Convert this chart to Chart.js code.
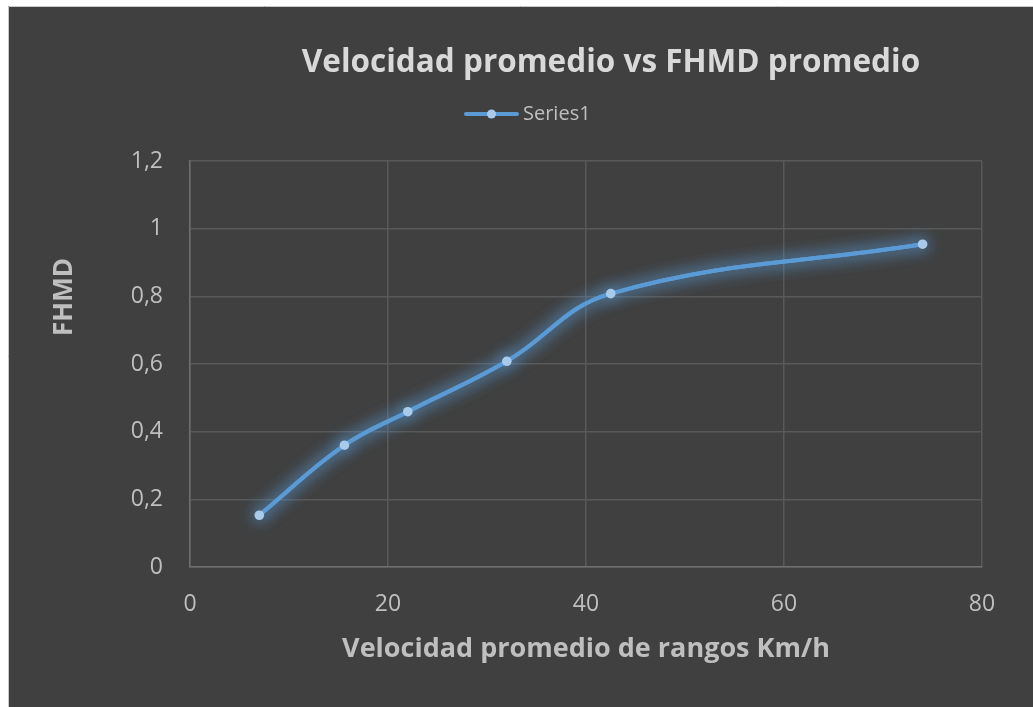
<!DOCTYPE html>
<html>
<head>
<meta charset="utf-8">
<title>Velocidad promedio vs FHMD promedio</title>
<script src="https://cdn.jsdelivr.net/npm/chart.js@4/dist/chart.umd.min.js"></script>
<style>
  html, body { margin: 0; padding: 0; background: #ffffff; overflow: hidden; }
  #chart { display: block; }
</style>
</head>
<body>
<canvas id="chart" width="1033" height="707"></canvas>
<script>
// Velocidad promedio por rango (km/h) y FHMD promedio medido
const velocidad = [7.0, 15.6, 22.0, 32.0, 42.5, 74.0];
const fhmd      = [0.153, 0.36, 0.459, 0.608, 0.808, 0.954];

// Marcas de los ejes
const xTicks = [0, 20, 40, 60, 80];
const yTicks = [0, 0.2, 0.4, 0.6, 0.8, 1, 1.2];

const seriesName = 'Series1';
const chartTitle = 'Velocidad promedio vs FHMD promedio';
const xTitle = 'Velocidad promedio de rangos Km/h';
const yTitle = 'FHMD';

const FONT = '"Open Sans", Lato, sans-serif';
const LINE = '#5b9bd5';
const DOT = '#a9cbeb';
const TEXT = '#bfbfbf';

const points = velocidad.map((v, i) => ({ x: v, y: fhmd[i] }));

// Formato decimal con coma
const fmt = v => String(Math.round(v * 10) / 10).replace('.', ',');

// Fondo oscuro del gráfico con borde claro
const frame = {
  id: 'frame',
  beforeDraw(chart) {
    const ctx = chart.ctx;
    ctx.save();
    ctx.fillStyle = '#ffffff';
    ctx.fillRect(0, 0, chart.width, chart.height);
    ctx.fillStyle = '#404040';
    ctx.fillRect(8, 6, chart.width - 8, chart.height - 6);
    ctx.strokeStyle = '#c8c8c8';
    ctx.lineWidth = 1;
    ctx.beginPath();
    ctx.moveTo(8.5, chart.height);
    ctx.lineTo(8.5, 6.5);
    ctx.lineTo(chart.width, 6.5);
    ctx.stroke();
    ctx.restore();
  }
};

// Brillo alrededor de la línea y los marcadores
const glow = {
  id: 'glow',
  beforeDatasetDraw(chart, args) {
    const ctx = chart.ctx;
    ctx.save();
    ctx.shadowColor = 'rgba(91,155,213,1)';
    ctx.shadowBlur = 16;
    // una pasada extra de la línea para reforzar el halo
    args.meta.dataset.draw(ctx, chart.chartArea);
  },
  afterDatasetDraw(chart) {
    chart.ctx.restore();
  }
};

// Título, leyenda y título del eje vertical
const headings = {
  id: 'headings',
  afterDraw(chart) {
    const ctx = chart.ctx;
    ctx.save();
    // título
    ctx.fillStyle = '#d9d9d9';
    ctx.font = 'bold 31.5px ' + FONT;
    ctx.textAlign = 'center';
    ctx.textBaseline = 'alphabetic';
    ctx.fillText(chartTitle, 611, 72);

    // leyenda
    ctx.strokeStyle = LINE;
    ctx.lineWidth = 4;
    ctx.lineCap = 'round';
    ctx.beginPath();
    ctx.moveTo(466, 114);
    ctx.lineTo(517, 114);
    ctx.stroke();
    ctx.fillStyle = DOT;
    ctx.beginPath();
    ctx.arc(491.5, 114, 4.5, 0, Math.PI * 2);
    ctx.fill();
    ctx.fillStyle = TEXT;
    ctx.font = '20px ' + FONT;
    ctx.textAlign = 'left';
    ctx.fillText(seriesName, 523, 120);

    // título del eje Y
    ctx.translate(65, 297);
    ctx.rotate(-Math.PI / 2);
    ctx.font = 'bold 26px ' + FONT;
    ctx.textAlign = 'center';
    ctx.textBaseline = 'middle';
    ctx.fillText(yTitle, 0, 0);
    ctx.restore();
  }
};

new Chart(document.getElementById('chart'), {
  type: 'scatter',
  data: {
    datasets: [{
      label: seriesName,
      data: points,
      showLine: true,
      borderColor: LINE,
      borderWidth: 4,
      tension: 0.4,
      pointRadius: 4.8,
      pointBackgroundColor: DOT,
      pointBorderWidth: 0,
      pointHoverRadius: 4.8
    }]
  },
  options: {
    responsive: false,
    animation: false,
    events: [],
    layout: { padding: { left: 9, top: 161, right: 51, bottom: 0 } },
    plugins: {
      legend: { display: false },
      title: { display: false },
      tooltip: { enabled: false }
    },
    scales: {
      x: {
        type: 'linear',
        min: xTicks[0],
        max: xTicks[xTicks.length - 1],
        afterBuildTicks: s => { s.ticks = xTicks.map(v => ({ value: v })); },
        afterFit: s => { s.height = 140; },
        grid: { color: '#595959', lineWidth: 1.5, drawTicks: false },
        border: { color: '#6f6f6f', width: 1.5 },
        ticks: {
          color: TEXT,
          font: { family: FONT, size: 23 },
          padding: 24,
          callback: v => fmt(v)
        },
        title: {
          display: true,
          text: xTitle,
          color: TEXT,
          font: { family: FONT, size: 27, weight: 'bold' },
          padding: { top: 0, bottom: 41 }
        }
      },
      y: {
        type: 'linear',
        min: yTicks[0],
        max: yTicks[yTicks.length - 1],
        afterBuildTicks: s => { s.ticks = yTicks.map(v => ({ value: v })); },
        afterFit: s => { s.width = 181; },
        grid: { color: '#595959', lineWidth: 1.5, drawTicks: false },
        border: { color: '#6f6f6f', width: 1.5 },
        ticks: {
          color: TEXT,
          font: { family: FONT, size: 23 },
          padding: 27,
          callback: v => fmt(v)
        }
      }
    }
  },
  plugins: [frame, glow, headings]
});
</script>
</body>
</html>
